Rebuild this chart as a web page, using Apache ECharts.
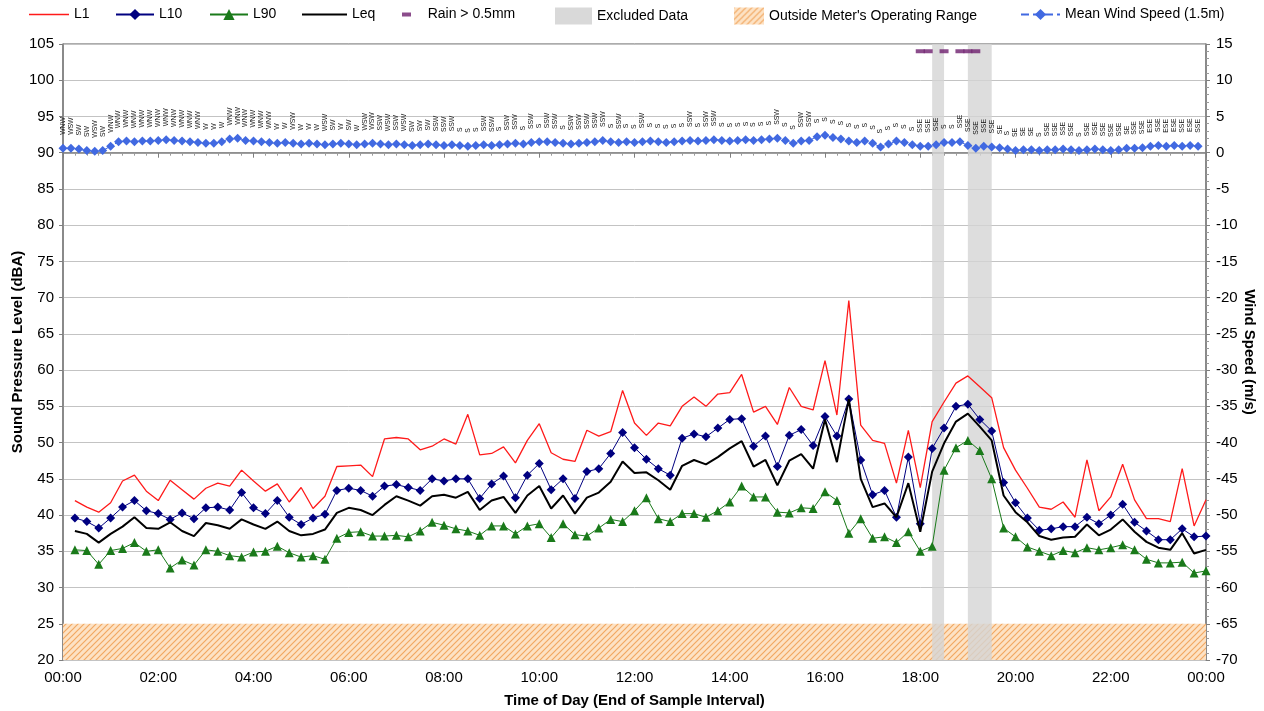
<!DOCTYPE html>
<html><head><meta charset="utf-8">
<script src="https://cdn.jsdelivr.net/npm/echarts/dist/echarts.min.js"></script>
<style>html,body{margin:0;padding:0;background:#fff}#c{width:1264px;height:711px}</style>
</head><body><div id="c"></div>
<script>
// ---- data ----
const tickLabels = ['00:00','02:00','04:00','06:00','08:00','10:00','12:00','14:00','16:00','18:00','20:00','22:00','00:00'];
const soundStepMin = 15;   // 15-minute sound samples, time = end of interval
const windStepMin = 10;    // 10-minute wind samples
const L1 = [42.0,41.1,40.4,41.7,44.7,45.5,43.3,42.0,44.8,43.5,42.2,43.7,44.4,44.0,46.2,44.7,43.3,44.3,41.8,43.8,40.9,42.6,46.7,46.8,46.9,
  45.3,50.5,50.7,50.5,49.0,49.5,50.5,49.8,53.9,48.3,48.5,49.4,47.2,50.3,52.6,48.6,47.7,47.4,51.7,50.9,51.5,57.2,52.7,
  51.0,52.7,52.3,55.0,56.3,55.0,56.7,56.9,59.4,54.2,55.0,52.5,57.6,55.0,54.5,61.3,53.8,69.6,52.4,50.3,49.9,44.4,51.7,
  43.8,52.9,55.6,58.2,59.2,57.7,56.2,49.3,46.2,43.7,41.1,40.8,41.8,39.7,47.6,40.6,42.5,47.0,42.1,39.5,39.5,39.1,46.4,38.5,42.1];
const L10 = [39.6,39.1,38.2,39.6,41.1,42.0,40.6,40.2,39.4,40.3,39.5,41.0,41.1,40.7,43.1,41.0,40.2,42.0,39.7,38.7,39.6,40.1,43.4,43.7,43.4,
  42.6,44.0,44.2,43.8,43.4,45.0,44.7,45.0,45.0,42.3,44.3,45.4,42.4,45.5,47.1,43.5,45.0,42.3,46.0,46.4,48.5,51.4,49.3,
  47.7,46.4,45.5,50.6,51.2,50.8,52.0,53.2,53.3,49.5,50.9,46.7,51.0,51.8,49.6,53.6,50.9,56.0,47.6,42.8,43.4,39.7,48.0,
  38.8,49.2,52.0,55.0,55.3,53.2,51.6,44.5,41.7,39.6,37.9,38.1,38.4,38.4,39.7,38.8,40.0,41.5,39.0,37.8,36.6,36.6,38.1,37.0,37.1];
const L90 = [35.2,35.1,33.2,35.1,35.4,36.2,35.0,35.2,32.7,33.8,33.1,35.2,35.0,34.4,34.2,34.9,35.0,35.7,34.8,34.2,34.4,33.9,36.8,37.6,37.7,
  37.1,37.1,37.2,37.0,37.8,39.0,38.6,38.1,37.8,37.2,38.5,38.5,37.4,38.5,38.8,36.9,38.8,37.3,37.1,38.2,39.4,39.1,40.6,
  42.4,39.5,39.1,40.2,40.2,39.7,40.6,41.8,44.0,42.5,42.5,40.4,40.3,41.0,40.9,43.2,42.0,37.5,39.5,36.8,37.0,36.2,37.7,
  35.0,35.7,46.2,49.3,50.3,48.9,45.0,38.2,37.0,35.6,35.0,34.4,35.1,34.8,35.5,35.2,35.5,35.9,35.2,33.9,33.4,33.4,33.5,32.0,32.3];
const Leq = [37.8,37.4,36.2,37.4,38.4,39.7,38.2,38.1,39.0,37.8,37.1,38.9,38.6,38.1,39.4,38.7,38.1,39.1,37.8,37.2,37.4,38.0,40.3,41.0,40.7,
  40.0,41.4,42.6,42.0,41.3,42.6,42.8,42.4,43.2,40.7,42.0,42.5,40.3,42.7,44.0,40.9,42.7,40.2,42.4,43.1,44.6,47.4,45.8,
  45.9,44.8,43.5,46.8,47.6,47.0,48.0,49.2,50.2,46.7,47.6,44.1,47.5,48.4,46.4,53.2,47.3,56.0,45.0,41.1,41.6,39.7,44.4,
  37.7,46.0,49.9,52.9,54.0,52.2,50.3,42.7,40.4,39.0,37.1,36.6,36.9,37.0,38.7,37.2,38.0,39.4,37.7,36.3,35.5,35.2,37.5,34.7,35.2];
const windSpeed = [0.6,0.6,0.5,0.3,0.2,0.3,0.9,1.5,
  1.6,1.5,1.6,1.6,1.7,1.8,1.7,1.6,1.5,1.4,1.3,1.3,1.5,1.9,2.0,1.7,1.6,1.5,1.4,
  1.3,1.4,1.3,1.2,1.3,1.2,1.1,1.2,1.3,1.2,1.1,1.2,1.3,1.2,1.1,1.2,1.1,1.0,1.1,1.2,1.1,
  1.0,1.1,1.0,0.9,1.0,1.1,1.0,1.1,1.2,1.3,1.2,1.4,1.5,
  1.5,1.4,1.3,1.2,1.3,1.4,1.5,1.7,1.5,1.4,1.5,1.4,
  1.5,1.6,1.5,1.4,1.5,1.6,1.7,1.6,1.7,1.8,1.7,1.6,1.7,1.8,1.7,1.8,1.9,
  2.0,1.7,1.3,1.6,1.7,2.2,2.4,2.1,1.9,
  1.6,1.4,1.6,1.3,0.8,1.2,1.6,1.4,1.1,0.9,0.9,1.1,1.4,1.4,1.5,1.0,0.6,0.9,0.8,0.7,0.5,
  0.3,0.4,0.4,0.3,0.4,0.4,0.5,0.4,0.3,0.4,0.5,0.4,0.3,0.4,0.6,0.6,0.7,0.9,1.0,0.9,1.0,0.9,1.0,0.9];
const windDir = ['WNW','WSW','SW','SW','WSW','SW','WNW',
  'WNW','WNW','WNW','WNW','WNW','WNW','WNW','WNW','WNW','WNW','WNW',
  'W','W','W',
  'WNW','WNW','WNW','WNW','WNW','WNW',
  'W','W','WSW','W','W','W','WSW',
  'SW','W','SW','W',
  'WSW','WSW','SSW','WSW','SSW','WSW',
  'SW','SW','SW','SSW','SSW','SSW',
  'S','S','S','SSW','SSW','S','SSW','SSW','S','SSW',
  'S','SSW','SSW','S','SSW','SSW','SSW','SSW','SSW','S',
  'SSW','S','S','SSW','S','S','S','S','S','SSW',
  'S','SSW','SSW','S','S','S','S','S','S','S',
  'SSW','S','S','SSW','SSW','S','S','S','S','S',
  'S','S','S','S','S','S','S','S','SSE','SSE',
  'SSE','S','S','SSE','SSE','SSE','SSE','SSE','SE','S',
  'SE','SE','SE','S','SSE','SSE','SSE','SSE','S','SSE',
  'SSE','SSE','SSE','SSE','SE','SSE','SSE','ESE','SSE','ESE',
  'ESE','SSE','ESE','SSE'];
const rainTimesMin = [1080,1090,1110,1130,1140,1150];   // 10-min samples with rain > 0.5mm
const rainMarkLevel = 104;
const excludedIntervalsMin = [[1095,1110],[1140,1170]];
const operatingFloor = [20,25];

// ---- build ----
const soundPts = arr => arr.map((v,i)=>[(i+1)*soundStepMin, v]);
const windPts = windSpeed.map((v,i)=>[i*windStepMin, v]);
const rainPts = rainTimesMin.map(t=>[t, rainMarkLevel]);

function hatch(){
  const c=document.createElement('canvas'); c.width=c.height=6;
  const g=c.getContext('2d');
  g.fillStyle='#fde2c4'; g.fillRect(0,0,6,6);
  g.strokeStyle='#f2a862'; g.lineWidth=1.2;
  g.beginPath();
  g.moveTo(0,6); g.lineTo(6,0);
  g.moveTo(-1,1); g.lineTo(1,-1);
  g.moveTo(5,7); g.lineTo(7,5);
  g.stroke();
  return c;
}
const hatchFill = {image: hatch(), repeat: 'repeat'};
const FONT = 'Liberation Sans, Arial, sans-serif';
const txt = {fontFamily: FONT, fontSize: 14, color: '#000'};

const chart = echarts.init(document.getElementById('c'), null, {renderer:'canvas'});
function lg(name, left, width, height, extra){
  return Object.assign({
    left: left, top: 7.5, padding: 0, itemWidth: width, itemHeight: height,
    itemGap: 0, textStyle: Object.assign({}, txt, {fontSize: 14}),
    selectedMode: false, data: [name]
  }, extra || {});
}
chart.setOption({
  animation: false,
  backgroundColor: '#fff',
  grid: {left: 63, right: 58, top: 44, bottom: 51, containLabel: false, outerBoundsMode: 'none',
         show: true, borderColor: '#595959', borderWidth: 1},
  legend: [
    lg({name:'L1', icon:'path://M0,0H40V1.4H0Z'}, 29, 40, 14),
    lg('L10', 115, 38, 14),
    lg('L90', 209, 38, 14),
    lg({name:'Leq', icon:'path://M0,0H45V2.2H0Z'}, 302, 45, 14),
    lg({name:'Rain > 0.5mm', icon:'rect'}, 402, 9, 4, {formatter: '   {name}'}),
    lg({name:'Excluded Data', icon:'rect', itemStyle:{color:'#d9d9d9'}}, 555, 37, 17),
    lg({name:"Outside Meter's Operating Range", icon:'rect', itemStyle:{color:hatchFill}}, 734, 30, 17),
    lg('Mean Wind Speed (1.5m)', 1020, 39, 14)
  ],
  xAxis: {
    type: 'value', min: 0, max: 1440, interval: 120,
    axisLine: {show: true, lineStyle: {color: '#7f7f7f', width: 1.5}},
    axisTick: {show: true, length: 5, lineStyle: {color: '#7f7f7f'}},
    minorTick: {show: true, splitNumber: 8, length: 3, lineStyle: {color: '#9a9a9a'}},
    splitLine: {show: false},
    axisLabel: Object.assign({}, txt, {fontSize: 15, margin: 10, formatter: v => tickLabels[Math.round(v/120)]}),
    name: 'Time of Day (End of Sample Interval)', nameLocation: 'middle', nameGap: 33,
    nameTextStyle: Object.assign({}, txt, {fontSize: 15, fontWeight: 'bold'})
  },
  yAxis: [{
    type: 'value', min: 20, max: 105, interval: 5, position: 'left',
    axisLine: {show: true, lineStyle: {color: '#7f7f7f', width: 1.5}},
    axisTick: {show: true, length: 4, lineStyle: {color: '#7f7f7f'}},
    splitLine: {show: true, lineStyle: {color: '#c3c3c3', width: 1}},
    axisLabel: Object.assign({}, txt, {fontSize: 15, margin: 9}),
    name: 'Sound Pressure Level (dBA)', nameLocation: 'middle', nameGap: 38, nameMoveOverlap: false,
    nameTextStyle: Object.assign({}, txt, {fontSize: 15, fontWeight: 'bold'})
  },{
    type: 'value', min: -70, max: 15, interval: 5, position: 'right',
    axisLine: {show: true, lineStyle: {color: '#7f7f7f', width: 1.5}},
    axisTick: {show: true, length: 4, lineStyle: {color: '#7f7f7f'}},
    minorTick: {show: true, splitNumber: 5, length: 3, lineStyle: {color: '#9a9a9a'}},
    splitLine: {show: false},
    axisLabel: Object.assign({}, txt, {fontSize: 15, margin: 10}),
    name: 'Wind Speed (m/s)', nameLocation: 'middle', nameGap: 36, nameRotate: -90, nameMoveOverlap: false,
    nameTextStyle: Object.assign({}, txt, {fontSize: 15, fontWeight: 'bold'})
  }],
  series: [
    {name: "Outside Meter's Operating Range", type: 'line', data: [], z: 1,
     itemStyle: {color: '#f5b97f'},
     markArea: {silent: true, itemStyle: {color: hatchFill}, data: [[{yAxis: operatingFloor[0]},{yAxis: operatingFloor[1]}]]}},
    {name: 'Excluded Data', type: 'line', data: [], z: 1,
     itemStyle: {color: '#d9d9d9'},
     markArea: {silent: true, itemStyle: {color: 'rgba(212,212,212,0.8)'},
       data: excludedIntervalsMin.map(r => [{xAxis: r[0]},{xAxis: r[1]}])}},
    {name: 'L1', type: 'line', data: soundPts(L1), symbol: 'none', z: 3,
     lineStyle: {color: '#ff1a1a', width: 1.3}, itemStyle: {color: '#ff1a1a'}},
    {name: 'L10', type: 'line', data: soundPts(L10), symbol: 'diamond', symbolSize: 9, showAllSymbol: true, z: 4,
     lineStyle: {color: '#000080', width: 1}, itemStyle: {color: '#000080'}},
    {name: 'L90', type: 'line', data: soundPts(L90), symbol: 'triangle', symbolSize: 9, showAllSymbol: true, z: 4,
     lineStyle: {color: '#1a7a1a', width: 1}, itemStyle: {color: '#1a7a1a'}},
    {name: 'Leq', type: 'line', data: soundPts(Leq), symbol: 'none', z: 5,
     lineStyle: {color: '#000', width: 2}, itemStyle: {color: '#000'}},
    {name: 'Rain > 0.5mm', type: 'scatter', data: rainPts, symbol: 'rect', symbolSize: [9,4], z: 6,
     itemStyle: {color: '#6e1f6e'}},
    {name: 'Mean Wind Speed (1.5m)', type: 'line', yAxisIndex: 1, data: windPts,
     symbol: 'diamond', symbolSize: 9, showAllSymbol: true, z: 4,
     lineStyle: {color: '#4169e1', width: 1, type: 'dashed'}, itemStyle: {color: '#4169e1'},
     label: {show: true, position: 'top', rotate: 90, align: 'left', verticalAlign: 'middle', distance: 9,
       fontSize: 6.8, fontFamily: FONT, color: '#111', formatter: p => windDir[p.dataIndex]},
     labelLayout: {hideOverlap: false}}
  ]
});
</script>
</body></html>
